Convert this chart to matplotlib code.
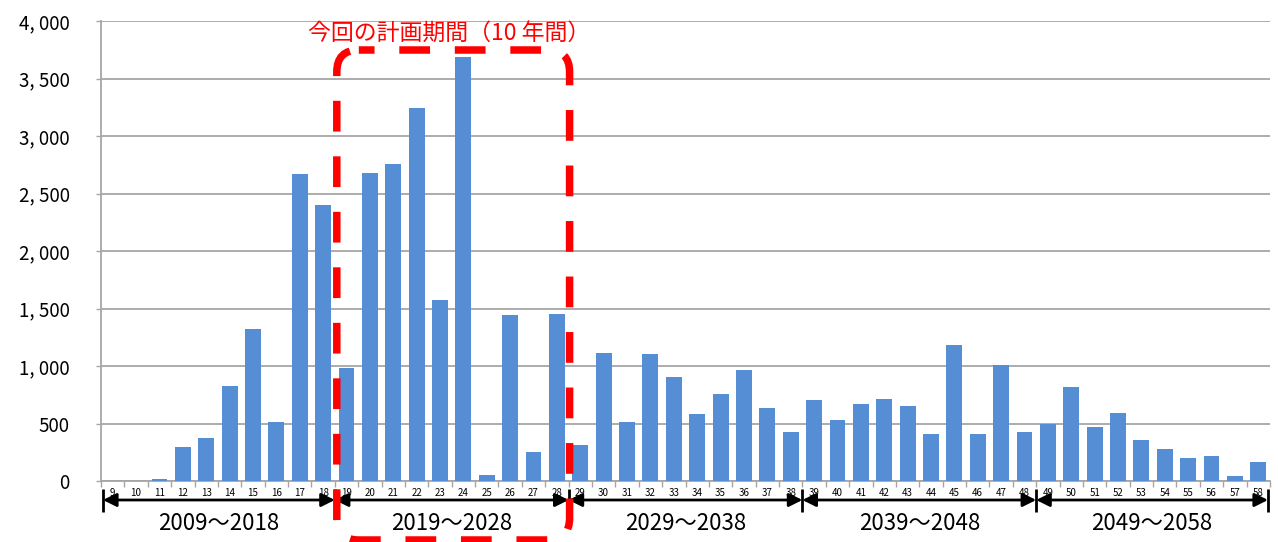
import matplotlib
matplotlib.use("Agg")
import matplotlib.pyplot as plt
from matplotlib.patches import FancyBboxPatch
import numpy as np

plt.rcParams['font.family'] = ['Noto Sans CJK JP', 'DejaVu Sans']

# Fiscal-year index (Heisei-based numbering) and quantity per year
years = list(range(9, 59))
values = [0, 0, 15, 295, 370, 826, 1320, 510, 2670, 2400,
          985, 2680, 2760, 3245, 1575, 3690, 50, 1445, 250, 1450,
          315, 1115, 510, 1105, 905, 580, 755, 965, 635, 425,
          705, 530, 670, 715, 650, 410, 1180, 405, 1005, 425,
          500, 815, 470, 590, 355, 280, 200, 220, 40, 165]

periods = ["2009～2018", "2019～2028", "2029～2038", "2039～2048", "2049～2058"]
period_size = 10
plan_period_index = 1
plan_label = "今回の計画期間（10 年間）"

ytick_values = [0, 500, 1000, 1500, 2000, 2500, 3000, 3500, 4000]
ytick_labels = ["0", "500", "1, 000", "1, 500", "2, 000", "2, 500",
                "3, 000", "3, 500", "4, 000"]

W, H = 1278, 542
fig = plt.figure(figsize=(W / 100, H / 100), dpi=100)
ax = fig.add_axes([101 / W, 61 / H, 1169 / W, 460 / H])

x = np.arange(len(years))
ax.bar(x, values, width=0.68, color='#558ED5', zorder=3)

grid_color = '#a6a6a6'
ax.set_xlim(-0.5, len(years) - 0.5)
ax.set_ylim(0, 4000)
ax.set_yticks(ytick_values)
ax.set_yticklabels(ytick_labels, fontsize=13.5)
ax.tick_params(axis='y', length=3.6, width=1, color=grid_color, pad=19)
ax.yaxis.grid(True, color=grid_color, lw=1.3, zorder=0)

ax.set_xticks(x)
ax.set_xticklabels([str(y) for y in years], fontsize=7)
ax.set_xticks(np.arange(-0.5, len(years), 1), minor=True)
ax.tick_params(axis='x', which='major', length=0, pad=5)
ax.tick_params(axis='x', which='minor', length=4, width=1, color=grid_color)

for side in ('top', 'right'):
    ax.spines[side].set_visible(False)
for side in ('left', 'bottom'):
    ax.spines[side].set_color(grid_color)
    ax.spines[side].set_linewidth(1.3)

# Overlay in pixel coordinates (origin at top-left) for annotations
ov = fig.add_axes([0, 0, 1, 1], facecolor='none')
ov.set_xlim(0, W)
ov.set_ylim(H, 0)
ov.axis('off')


def to_px(xv, yv):
    dx, dy = ax.transData.transform((xv, yv))
    return dx, H - dy


bounds = [to_px(i * period_size - 0.5, 0)[0] for i in range(len(periods) + 1)]
bounds[0] += 2
bounds[-1] -= 2

arrow_y = 500
for i, label in enumerate(periods):
    x0, x1 = bounds[i], bounds[i + 1]
    ov.annotate('', xy=(x1, arrow_y), xytext=(x0, arrow_y),
                arrowprops=dict(arrowstyle='<|-|>', color='black', lw=2,
                                mutation_scale=20, shrinkA=0, shrinkB=0))
    ov.text((x0 + x1) / 2, 523, label, fontsize=16, ha='center',
            va='center', color='black')
for b in bounds:
    ov.plot([b, b], [489, 512], color='black', lw=2, solid_capstyle='butt')

# Dashed rounded frame around the planning period
left = bounds[plan_period_index] + 2
right = bounds[plan_period_index + 1] + 1
top = 50
bottom = 540
frame = FancyBboxPatch((left, top), right - left, bottom - top,
                       boxstyle="round,pad=0,rounding_size=22",
                       fill=False, edgecolor='#ff0000', lw=5.4,
                       linestyle=(2, (4.1, 3.3)), clip_on=False, zorder=5)
ov.add_patch(frame)
ov.text((left + right) / 2 - 4, 33, plan_label, fontsize=16.5, color='#ff0000',
        ha='center', va='center')

fig.savefig('out.png', dpi=100)
